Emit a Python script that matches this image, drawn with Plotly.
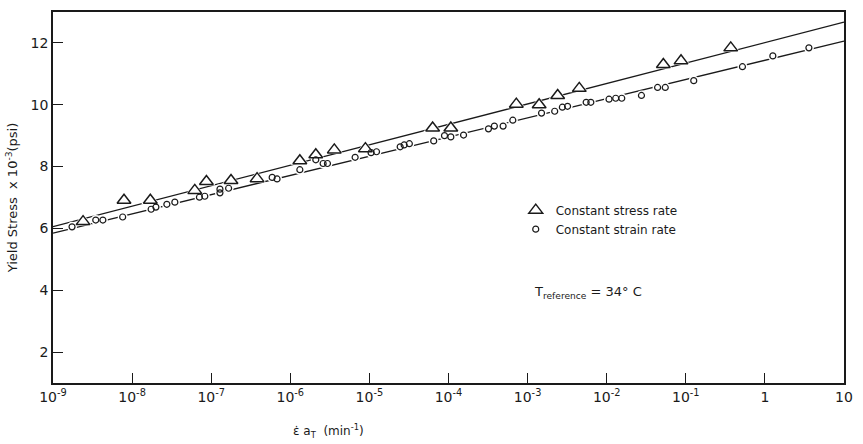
import plotly.graph_objects as go

# Constant stress rate (triangles)
stress_x = [2.4e-9, 7.9e-9, 1.7e-8, 6.2e-8, 8.7e-8, 1.78e-7, 3.8e-7, 1.32e-6, 2.1e-6, 3.6e-6,
            8.9e-6, 6.3e-5, 1.07e-4, 7.2e-4, 1.4e-3, 2.4e-3, 4.5e-3, 5.2e-2, 8.7e-2, 0.37]
stress_y = [6.22, 6.91, 6.91, 7.23, 7.52, 7.55, 7.61, 8.19, 8.38, 8.54,
            8.58, 9.25, 9.25, 10.02, 10.0, 10.30, 10.53, 11.30, 11.42, 11.84]

# Constant strain rate (circles)
strain_x = [1.74e-9, 3.47e-9, 4.27e-9, 7.6e-9, 1.74e-8, 2.0e-8, 2.75e-8, 3.47e-8, 7.1e-8, 8.3e-8,
            1.29e-7, 1.29e-7, 1.66e-7, 5.9e-7, 6.8e-7, 1.32e-6, 2.1e-6, 2.6e-6, 2.95e-6, 6.6e-6,
            1.05e-5, 1.23e-5, 2.45e-5, 2.75e-5, 3.2e-5, 6.5e-5, 8.9e-5, 1.07e-4, 1.55e-4, 3.2e-4,
            3.8e-4, 4.9e-4, 6.5e-4, 1.5e-3, 2.2e-3, 2.75e-3, 3.2e-3, 5.5e-3, 6.3e-3, 1.07e-2,
            1.3e-2, 1.55e-2, 2.75e-2, 4.4e-2, 5.5e-2, 0.126, 0.52, 1.26, 3.6]
strain_y = [6.05, 6.27, 6.27, 6.37, 6.62, 6.69, 6.78, 6.85, 7.01, 7.04,
            7.15, 7.27, 7.30, 7.65, 7.60, 7.90, 8.22, 8.10, 8.10, 8.30,
            8.45, 8.48, 8.64, 8.70, 8.74, 8.83, 9.00, 8.96, 9.02, 9.22,
            9.31, 9.31, 9.50, 9.73, 9.79, 9.92, 9.95, 10.08, 10.08, 10.18,
            10.21, 10.21, 10.30, 10.56, 10.56, 10.78, 11.23, 11.58, 11.84]

# Fitted lines
fit_x = [1e-9, 10]
stress_fit = [6.06, 12.67]
strain_fit = [5.85, 12.06]

x_tickvals = [1e-9, 1e-8, 1e-7, 1e-6, 1e-5, 1e-4, 1e-3, 1e-2, 1e-1, 1, 10]
x_ticktext = ["10<sup>-9</sup>", "10<sup>-8</sup>", "10<sup>-7</sup>", "10<sup>-6</sup>",
              "10<sup>-5</sup>", "10<sup>-4</sup>", "10<sup>-3</sup>", "10<sup>-2</sup>",
              "10<sup>-1</sup>", "1", "10"]
y_tickvals = [2, 4, 6, 8, 10, 12]

FONT = "DejaVu Sans, sans-serif"
INK = "#1a1a1a"

fig = go.Figure()
fig.add_trace(go.Scatter(x=fit_x, y=stress_fit, mode="lines",
                         line=dict(color=INK, width=1.3), showlegend=False, hoverinfo="skip"))
fig.add_trace(go.Scatter(x=fit_x, y=strain_fit, mode="lines",
                         line=dict(color=INK, width=1.3), showlegend=False, hoverinfo="skip"))
# white halos that break the lines around the markers
fig.add_trace(go.Scatter(x=stress_x, y=stress_y, mode="markers",
                         marker=dict(symbol="triangle-up", size=16, color="white", line=dict(width=0)),
                         showlegend=False, hoverinfo="skip"))
fig.add_trace(go.Scatter(x=strain_x, y=strain_y, mode="markers",
                         marker=dict(symbol="circle", size=10, color="white", line=dict(width=0)),
                         showlegend=False, hoverinfo="skip"))
fig.add_trace(go.Scatter(x=stress_x, y=stress_y, mode="markers", name="Constant stress rate",
                         marker=dict(symbol="triangle-up-open", size=12, color=INK, line=dict(width=1.5))))
fig.add_trace(go.Scatter(x=strain_x, y=strain_y, mode="markers", name="Constant strain rate",
                         marker=dict(symbol="circle-open", size=6, color=INK, line=dict(width=1.2))))

fig.add_annotation(x=0.605, y=0.245, xref="paper", yref="paper", xanchor="left", yanchor="middle",
                   text="T<sub>reference</sub> = 34° C", showarrow=False,
                   font=dict(family=FONT, size=13, color=INK))
fig.add_annotation(x=0.348, y=-0.13, xref="paper", yref="paper", xanchor="center", yanchor="middle",
                   text="ε̇ a<sub>T</sub>  (min<sup>-1</sup>)", showarrow=False,
                   font=dict(family=FONT, size=12, color=INK))

fig.update_layout(
    width=863, height=444,
    margin=dict(l=53, r=14, t=10, b=61),
    paper_bgcolor="white", plot_bgcolor="white",
    font=dict(family=FONT, color=INK),
    legend=dict(x=0.585, y=0.505, xanchor="left", yanchor="top", bgcolor="rgba(0,0,0,0)",
                font=dict(family=FONT, size=12, color=INK), itemsizing="trace",
                tracegroupgap=0, itemwidth=30),
    xaxis=dict(type="log", range=[-9, 1], tickvals=x_tickvals, ticktext=x_ticktext,
               ticks="inside", ticklen=10, tickwidth=1.2, tickcolor=INK,
               showline=True, linecolor=INK, linewidth=1.5, mirror=True, showgrid=False,
               zeroline=False, tickfont=dict(family=FONT, size=14, color=INK)),
    yaxis=dict(range=[1, 13], tickvals=y_tickvals, ticks="inside", ticklen=10, tickwidth=1.2,
               tickcolor=INK, showline=True, linecolor=INK, linewidth=1.5, mirror=True,
               showgrid=False, zeroline=False, tickfont=dict(family=FONT, size=14, color=INK),
               title=dict(text="Yield Stress  x 10<sup>-3</sup>(psi)", standoff=10,
                          font=dict(family=FONT, size=13, color=INK))),
)

fig.write_html("out.html")
